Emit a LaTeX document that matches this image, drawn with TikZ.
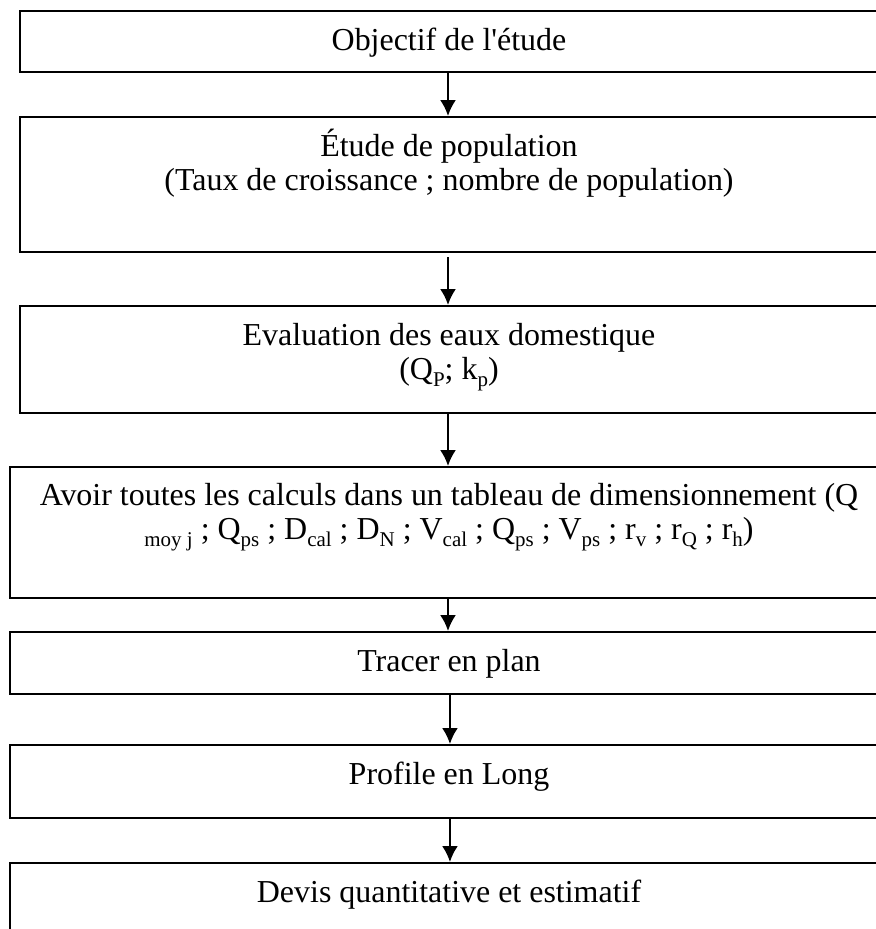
\documentclass[tikz,border=0pt]{standalone}
\usepackage{fontspec}
\setmainfont{Liberation Serif}
\usetikzlibrary{arrows.meta}
\newcommand{\subtxt}[1]{\raisebox{-0.22em}{\fontsize{8.6}{8.6}\selectfont #1}}
\tikzstyle{stepbox}=[draw, rectangle, line width=0.9pt, inner sep=0pt, anchor=north west]
\tikzstyle{steptext}=[anchor=base, align=center, inner sep=0pt, font=\fontsize{13.1}{14.3}\selectfont]
\tikzstyle{edge}=[line width=0.9pt, -{Latex[length=6.5pt, width=6.5pt]}]

\begin{document}
\begin{tikzpicture}[x=0.41pt, y=-0.41pt]
	\useasboundingbox (0,0) rectangle (876,929);
	\clip (0,0) rectangle (876,929);
	\coordinate (axis) at (448,0);
	\coordinate (mid) at (449,0);
	% boxes
	\node[stepbox, minimum width=355.1pt, minimum height=25pt] (obj) at (19,10) {};
	\node[stepbox, minimum width=355.1pt, minimum height=55.4pt] (pop) at (19,116) {};
	\node[stepbox, minimum width=355.1pt, minimum height=43.9pt] (eaux) at (19,305) {};
	\node[stepbox, minimum width=360.4pt, minimum height=53.7pt] (calc) at (9,466) {};
	\node[stepbox, minimum width=360.4pt, minimum height=25.4pt] (plan) at (9,631) {};
	\node[stepbox, minimum width=360.4pt, minimum height=29.9pt] (prof) at (9,744) {};
	\node[stepbox, minimum width=360.4pt, minimum height=45pt] (devis) at (9,862) {};
	% texts (base = last line)
	\node[steptext, yshift=-16.4pt] (objT) at (obj.north -| mid) {Objectif de l\textquotesingle étude};
	\node[steptext, yshift=-30.7pt] (popT) at (pop.north -| mid) {Étude de population\\(Taux de croissance ; nombre de population)};
	\node[steptext, yshift=-30.7pt] (eauxT) at (eaux.north -| mid) {Evaluation des eaux domestique\\(Q\subtxt{P}; k\subtxt{p})};
	\node[steptext, yshift=-30.3pt] (calcT) at (calc.north -| mid) {Avoir toutes les calculs dans un tableau de dimensionnement (Q\\\subtxt{moy j} ; Q\subtxt{ps} ; D\subtxt{cal} ; D\subtxt{N} ; V\subtxt{cal} ; Q\subtxt{ps} ; V\subtxt{ps} ; r\subtxt{v} ; r\subtxt{Q} ; r\subtxt{h})};
	\node[steptext, yshift=-16.4pt] (planT) at (plan.north -| mid) {Tracer en plan};
	\node[steptext, yshift=-16.4pt] (profT) at (prof.north -| mid) {Profile en Long};
	\node[steptext, yshift=-16.4pt] (devisT) at (devis.north -| mid) {Devis quantitative et estimatif};
	% arrows
	\draw[edge] (obj.south -| axis) -- (pop.north -| axis);
	\draw[edge, shorten <=1.6pt] (pop.south -| axis) -- (eaux.north -| axis);
	\draw[edge] (eaux.south -| axis) -- (calc.north -| axis);
	\draw[edge] (calc.south -| axis) -- (plan.north -| axis);
	\draw[edge] ([xshift=0.8pt]plan.south -| axis) -- ([xshift=0.8pt]prof.north -| axis);
	\draw[edge] ([xshift=0.8pt]prof.south -| axis) -- ([xshift=0.8pt]devis.north -| axis);
\end{tikzpicture}
\end{document}
